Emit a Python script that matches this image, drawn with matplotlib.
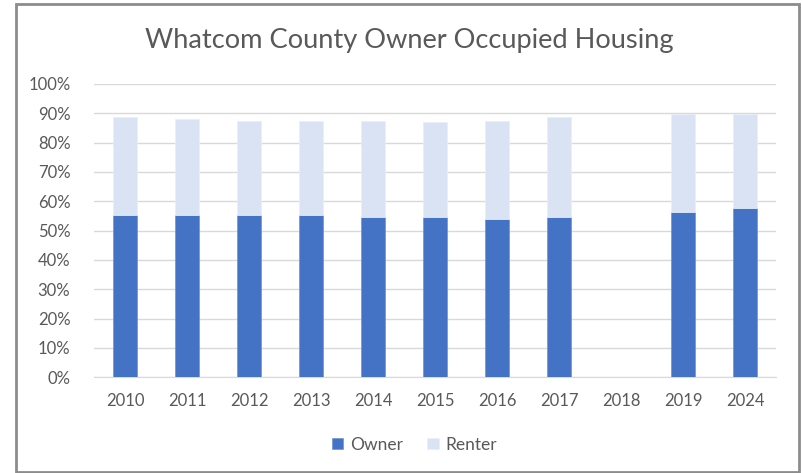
import numpy as np
import matplotlib.pyplot as plt
from matplotlib.patches import Rectangle
from matplotlib.ticker import PercentFormatter

plt.rcParams['font.family'] = ['Lato', 'DejaVu Sans']

# Values (percent of housing units)
years = ['2010', '2011', '2012', '2013', '2014', '2015', '2016', '2017', '2018', '2019', '2024']
owner = [55.2, 55.2, 55.2, 55.2, 54.8, 54.8, 54.1, 54.8, 0, 56.4, 57.6]
renter = [33.4, 32.8, 32.2, 32.2, 32.6, 32.1, 33.3, 33.8, 0, 33.3, 32.1]

owner_color = '#4472C4'
renter_color = '#DAE3F3'
text_color = '#595959'

fig = plt.figure(figsize=(8.02, 4.73), dpi=100)
ax = fig.add_axes([94 / 802, 1 - 377.3 / 473, (776 - 94) / 802, (377.3 - 84) / 473])

x = np.arange(len(years))
ax.bar(x, owner, width=0.39, color=owner_color, edgecolor='#6f93d3', linewidth=0.5,
       label='Owner', zorder=3)
ax.bar(x, renter, width=0.39, bottom=owner, color=renter_color, edgecolor='#e8eef8',
       linewidth=0.5, label='Renter', zorder=3)

ax.set_xlim(-0.5, len(years) - 0.5)
ax.set_ylim(0, 100)
ax.set_yticks(np.arange(0, 101, 10))
ax.yaxis.set_major_formatter(PercentFormatter(decimals=0))
ax.set_xticks(x)
ax.set_xticklabels(years)
ax.grid(axis='y', color='#d9d9d9', linewidth=1, zorder=0)
for s in ['top', 'right', 'left']:
    ax.spines[s].set_visible(False)
ax.spines['bottom'].set_color('#d9d9d9')
ax.tick_params(length=0, labelsize=12, colors=text_color)
ax.tick_params(axis='x', pad=11)
ax.tick_params(axis='y', pad=17)

fig.suptitle('Whatcom County Owner Occupied Housing', x=0.51, y=0.94,
             fontsize=19.6, color=text_color)

ax.legend(loc='center', bbox_to_anchor=(0.47, -0.23), ncol=2, frameon=False,
          fontsize=12.5, labelcolor=text_color, handlelength=0.65, handleheight=0.65,
          columnspacing=1.4, handletextpad=0.4)

# chart frame
fig.patches.append(Rectangle((16 / 802, 1 - 472 / 473), (799 - 16) / 802, (472 - 4) / 473,
                             transform=fig.transFigure, fill=False,
                             edgecolor='#8c8c8c', linewidth=2))

fig.savefig('out.png', dpi=100)
